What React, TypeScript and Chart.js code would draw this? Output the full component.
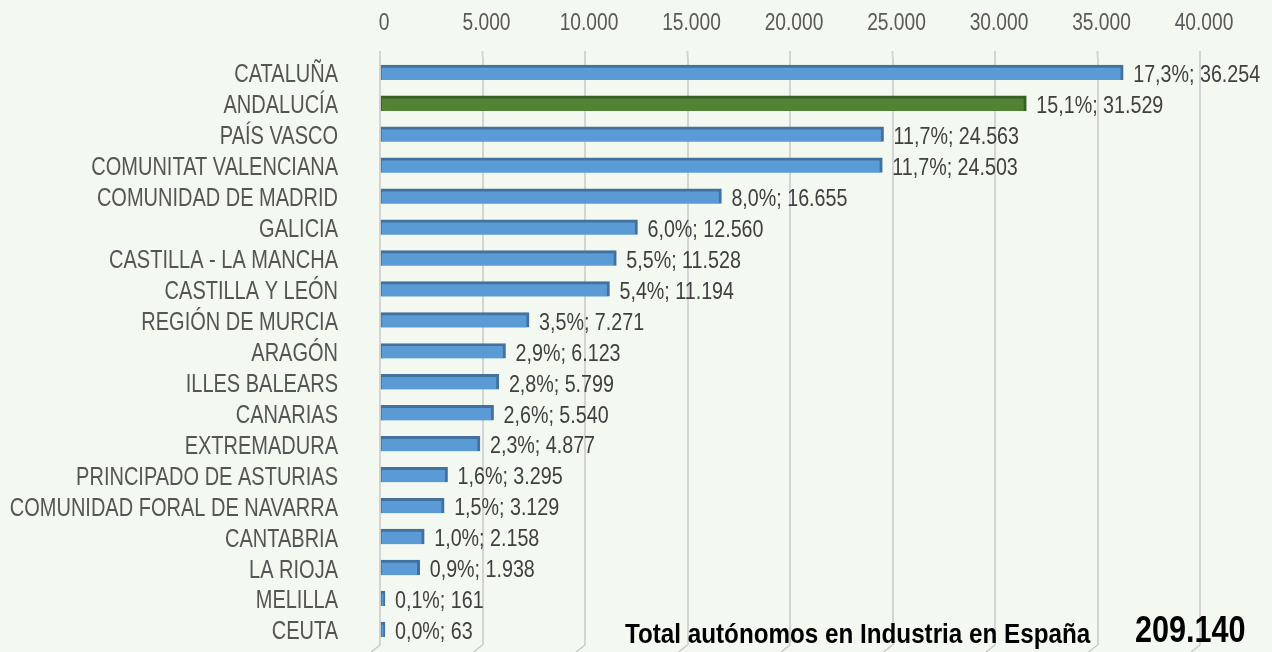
import React, { useEffect, useRef } from "react";
import { Chart, registerables } from "chart.js";

Chart.register(...registerables);

const categories = [
  "CATALUÑA",
  "ANDALUCÍA",
  "PAÍS VASCO",
  "COMUNITAT VALENCIANA",
  "COMUNIDAD DE MADRID",
  "GALICIA",
  "CASTILLA - LA MANCHA",
  "CASTILLA Y LEÓN",
  "REGIÓN DE MURCIA",
  "ARAGÓN",
  "ILLES BALEARS",
  "CANARIAS",
  "EXTREMADURA",
  "PRINCIPADO DE ASTURIAS",
  "COMUNIDAD FORAL DE NAVARRA",
  "CANTABRIA",
  "LA RIOJA",
  "MELILLA",
  "CEUTA",
];

const values = [
  36254, 31529, 24563, 24503, 16655, 12560, 11528, 11194, 7271, 6123, 5799,
  5540, 4877, 3295, 3129, 2158, 1938, 161, 63,
];

const percents = [
  "17,3%", "15,1%", "11,7%", "11,7%", "8,0%", "6,0%", "5,5%", "5,4%", "3,5%",
  "2,9%", "2,8%", "2,6%", "2,3%", "1,6%", "1,5%", "1,0%", "0,9%", "0,1%", "0,0%",
];

const highlightIndex = 1;
const totalLabel = "Total autónomos en Industria en España";
const totalValue = "209.140";

const FONT = "'Liberation Sans', Arial, sans-serif";
const NARROW = 0.8;

const fmt = (n: number) => n.toLocaleString("de-DE");

function narrowText(
  ctx: CanvasRenderingContext2D,
  text: string,
  x: number,
  y: number,
  align: CanvasTextAlign,
  font: string,
  color: string,
  sx: number = NARROW
) {
  ctx.save();
  ctx.font = font;
  ctx.fillStyle = color;
  ctx.textAlign = align;
  ctx.textBaseline = "middle";
  ctx.translate(x, y);
  ctx.scale(sx, 1);
  ctx.fillText(text, 0, 0);
  ctx.restore();
}

export default function App() {
  const ref = useRef<HTMLCanvasElement>(null);

  useEffect(() => {
    document.body.style.margin = "0";
    document.body.style.background = "#F3F8F1";
    const canvas = ref.current!;

    const gridExtras = {
      id: "gridExtras",
      beforeDatasetsDraw(chart: any) {
        const ctx = chart.ctx as CanvasRenderingContext2D;
        const xs = chart.scales.x;
        const area = chart.chartArea;
        ctx.save();
        xs.ticks.forEach((t: any) => {
          const px = xs.getPixelForValue(t.value);
          // extend gridline upward (back wall top)
          ctx.strokeStyle = "#D4D4D4";
          ctx.lineWidth = 2;
          ctx.beginPath();
          ctx.moveTo(px, area.top - 6);
          ctx.lineTo(px, area.top);
          ctx.stroke();
          // 3D floor stub
          ctx.strokeStyle = "#C9C9C9";
          ctx.lineWidth = 1.5;
          ctx.beginPath();
          ctx.moveTo(px, area.bottom);
          ctx.lineTo(px - 9, area.bottom + 7);
          ctx.stroke();
        });
        ctx.restore();
      },
    };

    const textPlugin = {
      id: "narrowTexts",
      afterDraw(chart: any) {
        const ctx = chart.ctx as CanvasRenderingContext2D;
        const xs = chart.scales.x;
        const ys = chart.scales.y;
        const area = chart.chartArea;

        xs.ticks.forEach((t: any) => {
          narrowText(
            ctx,
            fmt(t.value),
            xs.getPixelForValue(t.value) + 4,
            23,
            "center",
            `24px ${FONT}`,
            "#595959"
          );
        });

        categories.forEach((c, i) => {
          narrowText(
            ctx,
            c,
            area.left - 42,
            ys.getPixelForValue(i) + 3,
            "right",
            `25px ${FONT}`,
            "#555555"
          );
        });

        const meta = chart.getDatasetMeta(0);
        meta.data.forEach((el: any, i: number) => {
          narrowText(
            ctx,
            `${percents[i]}; ${fmt(values[i])}`,
            el.x + 10,
            el.y + 3,
            "left",
            `24px ${FONT}`,
            "#404040",
            0.82
          );
        });

        narrowText(ctx, totalLabel, 625, 635, "left", `bold 28px ${FONT}`, "#000000", 0.865);
        narrowText(ctx, totalValue, 1135, 632, "left", `bold 36px ${FONT}`, "#000000", 0.85);
      },
    };

    const chart = new Chart(canvas, {
      type: "bar",
      data: {
        labels: categories,
        datasets: [
          {
            data: values,
            backgroundColor: values.map((_, i) =>
              i === highlightIndex ? "#548235" : "#5B9BD5"
            ),
            borderColor: values.map((_, i) =>
              i === highlightIndex ? "#3A5F24" : "#41719C"
            ),
            borderWidth: { top: 3, right: 3, left: 1, bottom: 0 },
            borderSkipped: false,
            barThickness: 15,
            minBarLength: 5,
          },
        ],
      },
      options: {
        indexAxis: "y",
        responsive: false,
        animation: false,
        layout: { padding: { left: 0, right: 72, top: 0, bottom: 7 } },
        plugins: {
          legend: { display: false },
          tooltip: { enabled: false },
        },
        scales: {
          x: {
            position: "top",
            min: 0,
            max: 40000,
            ticks: { stepSize: 5000, display: false },
            grid: { color: "#D4D4D4", lineWidth: 2, drawTicks: false },
            border: { display: false },
            afterFit: (s: any) => {
              s.height = 57;
            },
          },
          y: {
            ticks: { display: false },
            grid: { display: false, drawTicks: false },
            border: { display: false },
            afterFit: (s: any) => {
              s.width = 380;
            },
          },
        },
      },
      plugins: [gridExtras, textPlugin],
    } as any);
    return () => chart.destroy();
  }, []);

  return (
    <div style={{ position: "fixed", left: 0, top: 0, width: 1272, height: 652, background: "#F3F8F1" }}>
      <canvas ref={ref} width={1272} height={652} style={{ width: 1272, height: 652 }} />
    </div>
  );
}
